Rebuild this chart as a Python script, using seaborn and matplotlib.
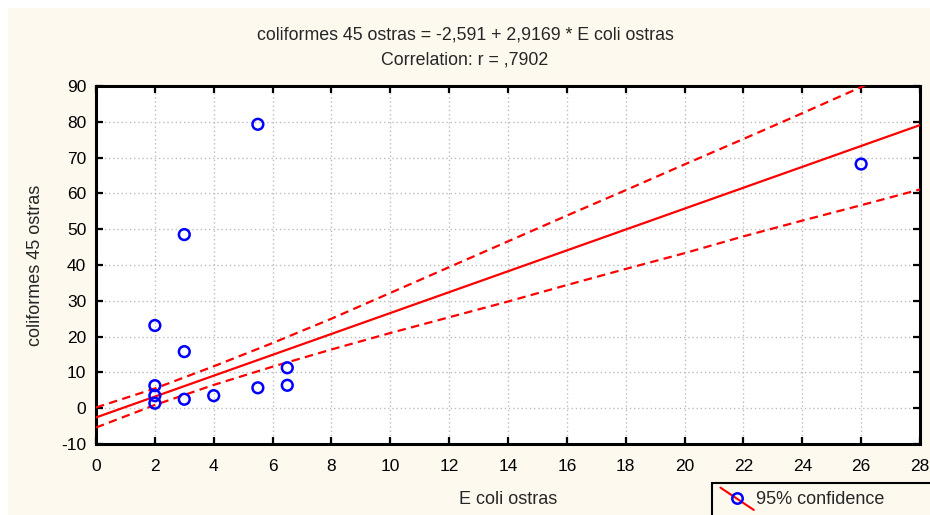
import numpy as np
import pandas as pd
import matplotlib
matplotlib.use("Agg")
import matplotlib.pyplot as plt
import seaborn as sns
from matplotlib.lines import Line2D
from matplotlib.legend_handler import HandlerBase
from matplotlib.patches import Rectangle

# ---- data ----
ecoli = [2, 2, 2, 2, 3, 3, 3, 4, 5.5, 5.5, 6.5, 6.5, 26]
coliformes = [23.1, 6.3, 3.5, 1.4, 15.8, 48.5, 2.5, 3.5, 79.3, 5.7, 6.4, 11.3, 68.2]

intercept = -2.591
slope = 2.9169
r_value = ",7902"

ci_x = [0, 2, 4, 6, 8, 10, 12, 14, 16, 18, 20, 22, 24, 26, 28]
ci_upper = [0.2, 5.5, 11.7, 18.2, 25.0, 32.2, 39.4, 46.6, 53.8, 60.9, 68.1, 75.2, 82.4, 89.7, 97.1]
ci_lower = [-5.4, 0.9, 6.5, 11.6, 16.4, 21.0, 25.4, 29.8, 34.4, 38.9, 43.3, 48.0, 52.4, 56.7, 61.1]

x_ticks = list(range(0, 29, 2))
y_ticks = list(range(-10, 91, 10))

title_line1 = f"coliformes 45 ostras = {intercept:.3f}".replace(".", ",") + \
              f" + {slope:.4f}".replace(".", ",") + " * E coli ostras"
title_line2 = "Correlation: r = " + r_value
xlabel = "E coli ostras"
ylabel = "coliformes 45 ostras"
legend_label = "95% confidence"

# ---- style ----
sns.set_theme(style="ticks")
plt.rcParams["font.family"] = ["Liberation Sans", "DejaVu Sans"]
plt.rcParams["axes.unicode_minus"] = False

cream = "#FDF9EF"
fig = plt.figure(figsize=(9.3, 5.15), dpi=100, facecolor=cream)
# white margin strips at top and left
fig.add_artist(Rectangle((0, 0), 8 / 930, 1, transform=fig.transFigure,
                         facecolor="white", edgecolor="none", zorder=-5))
fig.add_artist(Rectangle((0, 1 - 8 / 515), 1, 8 / 515, transform=fig.transFigure,
                         facecolor="white", edgecolor="none", zorder=-5))

ax = fig.add_axes([96 / 930, (515 - 444) / 515, (920 - 96) / 930, (444 - 86) / 515])
ax.set_facecolor("white")

df = pd.DataFrame({"x": ecoli, "y": coliformes})
fit_x = np.array([x_ticks[0], x_ticks[-1]], dtype=float)
fit_df = pd.DataFrame({"x": fit_x, "y": intercept + slope * fit_x})
ci_df = pd.DataFrame({"x": ci_x, "upper": ci_upper, "lower": ci_lower})

sns.lineplot(data=fit_df, x="x", y="y", ax=ax, color="red", lw=1.6, zorder=3)
sns.lineplot(data=ci_df, x="x", y="upper", ax=ax, color="red", lw=1.6, zorder=3,
             dashes=False, linestyle=(0, (3.8, 2.4)))
sns.lineplot(data=ci_df, x="x", y="lower", ax=ax, color="red", lw=1.6, zorder=3,
             dashes=False, linestyle=(0, (3.8, 2.4)))
sns.scatterplot(data=df, x="x", y="y", ax=ax, marker="o", s=60, facecolor="none",
                edgecolor="blue", linewidth=1.8, zorder=4)

ax.set_xlim(0, 28)
ax.set_ylim(-10, 90)
ax.set_xticks(x_ticks)
ax.set_yticks(y_ticks)
ax.grid(True, color="#BDBDBD", linestyle=(0, (1, 2)), linewidth=1.0)
ax.set_axisbelow(True)
for s in ax.spines.values():
    s.set_visible(True)
    s.set_color("black")
    s.set_linewidth(2.2)
ax.tick_params(direction="in", length=5, width=1.6, top=True, right=True,
               labelsize=12.5, colors="black")
ax.tick_params(axis="x", pad=11)
ax.tick_params(axis="y", pad=7)
ax.set_xlabel(xlabel, fontsize=13, labelpad=12)
ax.set_ylabel(ylabel, fontsize=13, labelpad=12)

fig.text(0.5, 1 - 35 / 515, title_line1, ha="center", va="center", fontsize=12.8)
fig.text(0.5, 1 - 60 / 515, title_line2, ha="center", va="center", fontsize=12.8)


class DiagHandler(HandlerBase):
    def create_artists(self, legend, orig_handle, xdescent, ydescent, width, height,
                       fontsize, trans):
        x0, x1 = -xdescent, width - xdescent
        y0, y1 = -ydescent, height - ydescent
        ln = Line2D([x0, x1], [y1 + 3, y0 - 4], color="red", lw=1.5, transform=trans)
        mk = Line2D([(x0 + x1) / 2], [(y0 + y1) / 2], marker="o", ms=7.5, mfc="none",
                    mec="blue", mew=1.8, ls="none", transform=trans)
        return [ln, mk]


# legend frame (extends past the figure edges as in the reference)
fig.add_artist(Rectangle((712 / 930, -0.05), 0.4, 0.05 + (515 - 483) / 515,
                         transform=fig.transFigure, facecolor=cream,
                         edgecolor="black", linewidth=1.5, zorder=5))
handle = Line2D([], [])
leg = fig.legend([handle], [legend_label], handler_map={Line2D: DiagHandler()},
                 loc="upper left", bbox_to_anchor=(715 / 930, 1 - 486 / 515),
                 borderaxespad=0, frameon=False, fontsize=13,
                 handlelength=1.85, handletextpad=0.1, borderpad=0.3)
leg.set_zorder(6)

fig.savefig("out.png", dpi=100, facecolor=fig.get_facecolor())
